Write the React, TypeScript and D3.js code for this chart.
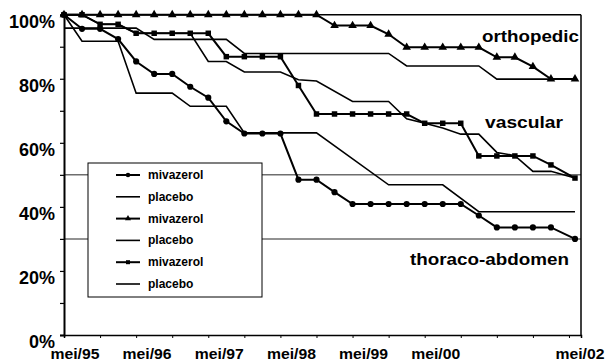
import React, { useRef, useEffect } from 'react';
import * as d3 from 'd3';

// months since mei/95 (quarterly observations, last one a little after mei/02)
const monthsMiv = [0, 3, 6, 9, 12, 15, 18, 21, 24, 27, 30, 33, 36, 39, 42, 45, 48, 51, 54, 57, 60, 63, 66, 69, 72, 75, 78, 81, 85];

// mivazerol series (% event-free), one value per quarter
const orthoMiv = [100, 100, 100, 100, 100, 100, 100, 100, 100, 100, 100, 100, 100, 100, 100, 96.6, 96.6, 96.6, 93.9, 89.8, 89.8, 89.8, 89.8, 89.8, 86.7, 86.7, 83.8, 79.9, 79.9];
const vascMiv = [100, 100, 97.0, 97.0, 94.2, 94.2, 94.2, 94.2, 94.2, 86.9, 86.9, 86.9, 86.9, 77.9, 69.0, 69.0, 69.0, 69.0, 69.0, 69.0, 66.1, 66.1, 66.1, 55.9, 55.9, 55.9, 55.9, 53.1, 49.0];
const thorMiv = [100, 95.6, 95.6, 92.4, 85.4, 81.5, 81.5, 77.5, 74.1, 66.7, 62.9, 62.9, 62.9, 48.5, 48.5, 44.6, 40.9, 40.9, 40.9, 40.9, 40.9, 40.9, 40.9, 37.3, 33.6, 33.6, 33.6, 33.6, 30.0];

// placebo series: vertices only (no markers)
const orthoPlacMonths = [0, 12, 15, 27, 30, 54, 57, 69, 72, 85];
const orthoPlac = [95.8, 95.8, 92.3, 92.3, 87.9, 87.9, 84.0, 84.0, 79.9, 79.9];
const vascPlacMonths = [0, 3, 6, 9, 12, 21, 24, 27, 30, 36, 39, 42, 48, 54, 57, 60, 63, 66, 69, 72, 75, 78, 81, 85];
const vascPlac = [100, 100, 97.0, 97.0, 94.2, 94.2, 85.4, 85.4, 82.1, 82.1, 79.7, 79.3, 72.9, 72.9, 67.5, 66.1, 64.6, 62.7, 62.7, 57.0, 56.0, 51.1, 51.1, 49.0];
const thorPlacMonths = [0, 3, 9, 12, 18, 21, 27, 30, 42, 54, 63, 69, 85];
const thorPlac = [100, 91.7, 91.7, 75.5, 75.5, 71.4, 71.4, 63.1, 63.1, 46.9, 46.9, 38.5, 38.5];

const xLabels = ['mei/95', 'mei/96', 'mei/97', 'mei/98', 'mei/99', 'mei/00', 'mei/02'];
const xLabelMonths = [0, 12, 24, 36, 48, 60, 84];
const yTicks = [0, 20, 40, 60, 80, 100];
const gridValues = [50, 30];
const legendLabels = ['mivazerol', 'placebo', 'mivazerol', 'placebo', 'mivazerol', 'placebo'];
const groupLabels = ['orthopedic', 'vascular', 'thoraco-abdomen'];

const FONT = '"Liberation Sans", Arial, sans-serif';

const App = () => {
  const ref = useRef<SVGSVGElement>(null);

  useEffect(() => {
    const svg = d3.select(ref.current);
    svg.selectAll('*').remove();

    const left = 64, right = 581, top = 14.7, bottom = 335;
    const x = d3.scaleLinear().domain([0, 86]).range([left, right]);
    const y = d3.scaleLinear().domain([0, 100]).range([bottom, top]);

    svg.append('rect').attr('width', 610).attr('height', 363).attr('fill', '#fff');

    // gridlines
    svg.selectAll('line.grid').data(gridValues).enter().append('line')
      .attr('x1', left).attr('x2', right)
      .attr('y1', d => y(d)).attr('y2', d => y(d))
      .attr('stroke', '#6e6e6e').attr('stroke-width', 1.5);

    // frame
    svg.append('line').attr('x1', right).attr('x2', right).attr('y1', top).attr('y2', bottom)
      .attr('stroke', '#000').attr('stroke-width', 1.5);
    svg.append('line').attr('x1', left).attr('x2', right).attr('y1', top).attr('y2', top)
      .attr('stroke', '#000').attr('stroke-width', 1.5);

    // y axis
    const yAxis = svg.append('g').attr('transform', `translate(${left},0)`)
      .call(d3.axisLeft(y).tickValues(d3.range(0, 101, 10)).tickSize(4).tickFormat(() => ''));
    yAxis.select('.domain').attr('stroke-width', 2);
    yAxis.selectAll('.tick line').attr('stroke-width', 1.2);
    svg.selectAll('text.ylab').data(yTicks).enter().append('text')
      .attr('x', 55).attr('y', d => y(d) + 7)
      .attr('dominant-baseline', 'central')
      .attr('text-anchor', 'end')
      .attr('font-family', FONT).attr('font-weight', 'bold').attr('font-size', 18)
      .text(d => `${d}%`);

    // x axis
    const xAxis = svg.append('g').attr('transform', `translate(0,${bottom})`)
      .call(d3.axisBottom(x).tickValues(d3.range(0, 85, 6)).tickSize(3).tickFormat(() => ''));
    xAxis.select('.domain').attr('stroke-width', 1.5);
    svg.selectAll('text.xlab').data(xLabels).enter().append('text')
      .attr('x', (d, i) => x(xLabelMonths[i]) + 11).attr('y', 359)
      .attr('text-anchor', 'middle')
      .attr('font-family', FONT).attr('font-weight', 'bold').attr('font-size', 14)
      .attr('textLength', 49).attr('lengthAdjust', 'spacingAndGlyphs')
      .text(d => d);

    const line = d3.line<[number, number]>().x(d => x(d[0])).y(d => y(d[1]));

    const placebo = [
      [orthoPlacMonths, orthoPlac],
      [vascPlacMonths, vascPlac],
      [thorPlacMonths, thorPlac],
    ];
    placebo.forEach(([ms, vs]) => {
      svg.append('path').datum(ms.map((m, i) => [m, vs[i]] as [number, number]))
        .attr('d', line).attr('fill', 'none').attr('stroke', '#000').attr('stroke-width', 1.6);
    });

    const miv = [
      { vals: orthoMiv, sym: d3.symbolTriangle, size: 32 },
      { vals: vascMiv, sym: d3.symbolSquare, size: 30 },
      { vals: thorMiv, sym: d3.symbolCircle, size: 30 },
    ];
    miv.forEach(s => {
      const pts = monthsMiv.map((m, i) => [m, s.vals[i]] as [number, number]);
      svg.append('path').datum(pts)
        .attr('d', line).attr('fill', 'none').attr('stroke', '#000').attr('stroke-width', 2);
      svg.append('g').selectAll('path').data(pts).enter().append('path')
        .attr('transform', d => `translate(${x(d[0])},${y(d[1])})`)
        .attr('d', d3.symbol().type(s.sym).size(s.size)())
        .attr('fill', '#000');
    });

    // group labels
    const labelPos = [
      { x: 482, y: 42, w: 97 },
      { x: 485, y: 128, w: 78 },
      { x: 410, y: 265, w: 159 },
    ];
    svg.selectAll('text.grp').data(groupLabels).enter().append('text')
      .attr('x', (d, i) => labelPos[i].x).attr('y', (d, i) => labelPos[i].y)
      .attr('font-family', FONT).attr('font-weight', 'bold').attr('font-size', 17)
      .attr('textLength', (d, i) => labelPos[i].w).attr('lengthAdjust', 'spacingAndGlyphs')
      .text(d => d);

    // legend
    const lg = svg.append('g');
    lg.append('rect').attr('x', 88).attr('y', 163).attr('width', 174).attr('height', 134)
      .attr('fill', '#fff').attr('stroke', '#000').attr('stroke-width', 1);
    const legendSyms = [d3.symbolCircle, null, d3.symbolTriangle, null, d3.symbolSquare, null];
    legendLabels.forEach((lab, i) => {
      const ly = 175 + i * 21.8;
      lg.append('line').attr('x1', 116).attr('x2', 140).attr('y1', ly).attr('y2', ly)
        .attr('stroke', '#000').attr('stroke-width', legendSyms[i] ? 2 : 1.6);
      const sym = legendSyms[i];
      if (sym) {
        lg.append('path').attr('transform', `translate(128,${ly})`)
          .attr('d', d3.symbol().type(sym).size(16)()).attr('fill', '#000');
      }
      lg.append('text').attr('x', 148).attr('y', ly).attr('dominant-baseline', 'central')
        .attr('font-family', FONT).attr('font-weight', 'bold').attr('font-size', 12)
        .text(lab);
    });
  }, []);

  return <svg ref={ref} width={610} height={363} style={{ position: 'absolute', left: 0, top: 0 }}></svg>;
};

export default App;
